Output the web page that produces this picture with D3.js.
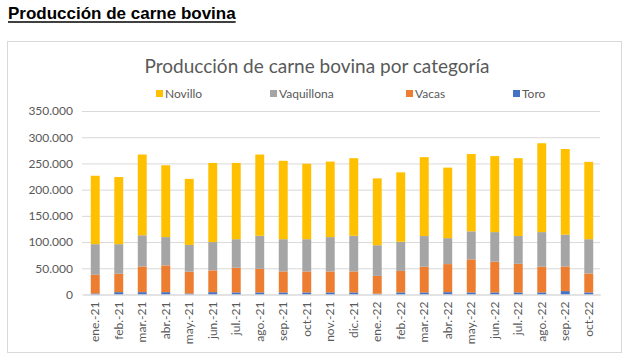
<!DOCTYPE html>
<html>
<head>
<meta charset="utf-8">
<script src="https://cdn.jsdelivr.net/npm/d3@7"></script>
<style>
  body { margin: 0; background: #fff; }
  text { font-family: Lato, "Open Sans", sans-serif; }
</style>
</head>
<body>
<div id="graph"></div>
<script>
// Monthly categories (x axis)
const months = ['ene.-21', 'feb.-21', 'mar.-21', 'abr.-21', 'may.-21', 'jun.-21',
  'jul.-21', 'ago.-21', 'sep.-21', 'oct-21', 'nov.-21', 'dic.-21',
  'ene.-22', 'feb.-22', 'mar.-22', 'abr.-22', 'may.-22', 'jun.-22',
  'jul.-22', 'ago.-22', 'sep.-22', 'oct-22'];

// Series values (tons)
const toro = [2000, 4500, 4500, 4500, 2000, 4500, 4000, 4000, 4000, 4000, 4000, 4000,
  1500, 4000, 4000, 4500, 4000, 4000, 4000, 4000, 6500, 4000];
const vacas = [35500, 35000, 49000, 51000, 41500, 41500, 47000, 45000, 40000, 40000, 40000, 40000,
  34000, 41000, 49000, 53500, 63000, 58500, 54500, 49000, 47000, 36000];
const vaquillona = [58500, 56500, 59500, 54000, 51000, 54000, 54500, 63000, 61500, 61500, 65500, 68000,
  58500, 55500, 58500, 49500, 53500, 56500, 53000, 66000, 60500, 65500];
const novillo = [130500, 128000, 154000, 137000, 126000, 151000, 145500, 155000, 149500, 144000, 144000, 148000,
  127500, 132500, 150500, 134500, 147500, 145000, 148500, 169500, 163500, 147500];

const yTicks = [0, 50000, 100000, 150000, 200000, 250000, 300000, 350000];

// Stack order, bottom to top
const seriesNames = ['Toro', 'Vacas', 'Vaquillona', 'Novillo'];
const seriesValues = { Toro: toro, Vacas: vacas, Vaquillona: vaquillona, Novillo: novillo };
const colors = { Novillo: '#ffc000', Vaquillona: '#a5a5a5', Vacas: '#ed7d31', Toro: '#4472c4' };
// Legend order
const legendNames = ['Novillo', 'Vaquillona', 'Vacas', 'Toro'];

const width = 631;
const height = 360;

const svg = d3.select('#graph')
    .append('svg')
    .attr('width', width)
    .attr('height', height);

// Page heading
const heading = svg.append('text')
    .attr('x', 8)
    .attr('y', 19)
    .style('font-family', '"Liberation Sans", Arial, sans-serif')
    .style('font-weight', 'bold')
    .style('font-size', '17px')
    .attr('fill', '#000')
    .text('Producción de carne bovina');
const hw = heading.node().getComputedTextLength();
svg.append('line')
    .attr('x1', 8).attr('x2', 8 + hw)
    .attr('y1', 22).attr('y2', 22)
    .attr('stroke', '#000')
    .attr('stroke-width', 1.3);

// Chart frame
svg.append('rect')
    .attr('x', 7.5).attr('y', 41.5)
    .attr('width', 614).attr('height', 311)
    .attr('fill', '#fff')
    .attr('stroke', '#d9d9d9');

// Chart title
svg.append('text')
    .attr('x', 317)
    .attr('y', 73)
    .attr('text-anchor', 'middle')
    .style('font-size', '19px')
    .attr('fill', '#595959')
    .text('Producción de carne bovina por categoría');

// Scales
const x = d3.scaleBand()
    .domain(months)
    .range([83.5, 600.5])
    .paddingInner(0.62)
    .paddingOuter(0.31);

const y = d3.scaleLinear()
    .domain([0, 350000])
    .range([294.5, 111]);

const locale = d3.formatLocale({ decimal: ',', thousands: '.', grouping: [3], currency: ['', ''] });
const fmt = locale.format(',');

// Y axis with gridlines
const yAxis = svg.append('g')
    .attr('transform', 'translate(82,0)')
    .call(d3.axisLeft(y).tickValues(yTicks).tickFormat(fmt).tickSize(-518).tickPadding(9));
yAxis.select('.domain').remove();
yAxis.selectAll('.tick line').attr('stroke', '#d9d9d9');
yAxis.selectAll('.tick text')
    .attr('fill', '#595959')
    .style('font-size', '12px')
    .style('font-family', 'Lato, sans-serif');

// Stacked bars
const table = months.map((m, i) => {
  const row = { month: m };
  seriesNames.forEach(s => { row[s] = seriesValues[s][i]; });
  return row;
});
const stacked = d3.stack().keys(seriesNames)(table);

svg.append('g')
    .selectAll('g')
    .data(stacked)
    .enter()
    .append('g')
    .attr('fill', d => colors[d.key])
    .selectAll('rect')
    .data(d => d)
    .enter()
    .append('rect')
    .attr('x', d => x(d.data.month))
    .attr('width', x.bandwidth())
    .attr('y', d => y(d[1]))
    .attr('height', d => y(d[0]) - y(d[1]));

// X axis labels, rotated
const xAxis = svg.append('g')
    .attr('transform', 'translate(0,294.5)')
    .call(d3.axisBottom(x).tickSize(0).tickPadding(0));
xAxis.select('.domain').attr('stroke', '#d9d9d9');
xAxis.selectAll('.tick text')
    .attr('transform', 'rotate(-90)')
    .attr('x', -7)
    .attr('y', 0)
    .attr('dy', '0.35em')
    .attr('text-anchor', 'end')
    .attr('fill', '#595959')
    .style('font-size', '12px')
    .style('font-family', 'Lato, sans-serif');

// Legend
const legendX = [156, 270, 406, 513];
const legend = svg.append('g')
    .selectAll('g')
    .data(legendNames)
    .enter()
    .append('g')
    .attr('transform', (d, i) => `translate(${legendX[i]},94)`);
legend.append('rect')
    .attr('x', 0).attr('y', -4)
    .attr('width', 7).attr('height', 7)
    .attr('fill', d => colors[d]);
legend.append('text')
    .attr('x', 9)
    .attr('y', 4)
    .style('font-size', '12px')
    .attr('fill', '#595959')
    .text(d => d);
</script>
</body>
</html>
